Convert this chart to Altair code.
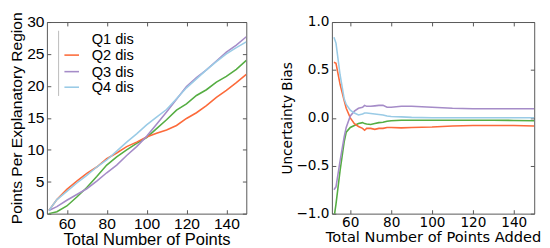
import altair as alt
import pandas as pd

series = ["Q1 dis", "Q2 dis", "Q3 dis", "Q4 dis"]
colors = ["#55ad42", "#fc6a3a", "#a58cc8", "#9acbe6"]

# Left panel: points per explanatory region
left_x = [51, 55, 60, 65, 70, 75, 80, 85, 90, 95, 100, 105, 110, 115, 120, 125, 130, 135, 140, 145, 150]
left_q1 = [0.0, 0.3, 1.2, 2.6, 4.1, 5.8, 7.6, 8.9, 10.0, 11.0, 11.9, 13.3, 14.7, 16.2, 17.2, 18.5, 19.4, 20.6, 21.5, 22.6, 24.0]
left_q2 = [0.5, 2.2, 3.8, 5.1, 6.3, 7.3, 8.6, 9.5, 10.5, 11.2, 12.0, 12.6, 13.1, 13.8, 14.9, 15.8, 16.9, 18.2, 19.3, 20.5, 21.8]
left_q3 = [0.5, 1.1, 2.1, 3.0, 3.9, 5.1, 6.4, 7.6, 9.1, 10.5, 12.1, 14.0, 15.9, 17.9, 19.9, 21.3, 22.5, 23.9, 25.3, 26.4, 27.7]
left_q4 = [0.5, 2.2, 3.5, 4.8, 6.0, 7.3, 8.4, 9.8, 11.2, 12.5, 13.9, 15.1, 16.3, 18.0, 19.7, 21.1, 22.5, 23.8, 25.0, 26.0, 26.9]

# Right panel: uncertainty bias
right_x = [52, 53, 55, 57, 58, 60, 62, 64, 66, 67, 68, 70, 72, 74, 76, 78, 80, 85, 90, 100, 110, 120, 130, 140, 150]
right_q1 = [-1.05, -0.9, -0.55, -0.25, -0.15, -0.1, -0.08, -0.06, -0.05, -0.06, -0.065, -0.07, -0.06, -0.05, -0.045, -0.035, -0.03, -0.025, -0.025, -0.025, -0.025, -0.025, -0.025, -0.027, -0.03]
right_q2 = [0.58, 0.57, 0.35, 0.18, 0.1, 0.0, -0.06, -0.09, -0.11, -0.13, -0.11, -0.11, -0.12, -0.11, -0.11, -0.1, -0.1, -0.105, -0.1, -0.095, -0.085, -0.08, -0.08, -0.08, -0.085]
right_q3 = [-0.75, -0.72, -0.45, -0.2, -0.1, 0.02, 0.07, 0.1, 0.11, 0.13, 0.12, 0.12, 0.125, 0.13, 0.13, 0.11, 0.11, 0.12, 0.12, 0.11, 0.1, 0.095, 0.095, 0.095, 0.095]
right_q4 = [0.84, 0.78, 0.45, 0.2, 0.14, 0.08, 0.05, 0.03, 0.04, 0.05, 0.05, 0.045, 0.04, 0.035, 0.03, 0.02, 0.015, 0.01, 0.005, 0.0, 0.0, 0.0, 0.0, 0.0, 0.0]

x_ticks = [60, 80, 100, 120, 140]
left_y_ticks = [0, 5, 10, 15, 20, 25, 30]
right_y_ticks = [-1.0, -0.5, 0.0, 0.5, 1.0]


def to_long(xs, ys_list):
    rows = []
    for name, ys in zip(series, ys_list):
        for x, y in zip(xs, ys):
            rows.append({"x": x, "y": y, "series": name})
    return pd.DataFrame(rows)


left_df = to_long(left_x, [left_q1, left_q2, left_q3, left_q4])
right_df = to_long(right_x, [right_q1, right_q2, right_q3, right_q4])

FRAME = "#555555"
H = 197

color = alt.Color("series:N", scale=alt.Scale(domain=series, range=colors), legend=None)


def panel(df, xdom, ydom, yvals, yfmt, xtitle, ytitle, font, lsize, xtsize, ytsize):
    common = dict(domain=False, grid=False, tickSize=4, offset=-4, tickColor=FRAME,
                  labelFont=font, labelFontSize=lsize, labelColor="black",
                  titleFont=font, titleFontWeight="normal", titleColor="black")
    lines = alt.Chart(df).mark_line(strokeWidth=1.6, clip=True).encode(
        x=alt.X("x:Q", scale=alt.Scale(domain=xdom, nice=False, zero=False),
                axis=alt.Axis(orient="bottom", values=x_ticks, title=xtitle,
                              labelPadding=2, titlePadding=1, titleFontSize=xtsize, **common)),
        y=alt.Y("y:Q", scale=alt.Scale(domain=ydom, nice=False, zero=False),
                axis=alt.Axis(orient="left", values=yvals, format=yfmt, title=ytitle,
                              labelPadding=3, titlePadding=2, titleFontSize=ytsize, **common)),
        color=color,
        detail="series:N",
    )
    ticks2 = alt.Chart(df).mark_point(opacity=0).encode(
        x=alt.X("x:Q", scale=alt.Scale(domain=xdom, nice=False, zero=False),
                axis=alt.Axis(orient="top", values=x_ticks, labels=False, title=None, **common)),
        y=alt.Y("y:Q", scale=alt.Scale(domain=ydom, nice=False, zero=False),
                axis=alt.Axis(orient="right", values=yvals, labels=False, title=None, **common)),
    )
    return lines, ticks2


l_lines, l_ticks = panel(left_df, [50, 150], [0, 30], left_y_ticks, "d",
                         "Total Number of Points", "Points Per Explanatory Region",
                         "Liberation Sans", 16, 17, 16)
r_lines, r_ticks = panel(right_df, [51, 150], [-1, 1], right_y_ticks, ".1f",
                         "Total Number of Points Added", "Uncertainty Bias",
                         "DejaVu Sans", 14, 15, 14)

# Hand-made legend (Q1 entry shows no line in the original)
legend_layers = []
one = pd.DataFrame({"k": [0]})
legend_layers.append(
    alt.Chart(one).mark_rule(color="#bbbbbb", strokeWidth=1).encode(
        x=alt.value(12), y=alt.value(9), y2=alt.value(76))
)
legend_y = [18, 34, 51, 67]
for i, (name, col) in enumerate(zip(series, colors)):
    if i > 0:
        legend_layers.append(
            alt.Chart(one).mark_rule(color=col, strokeWidth=1.6).encode(
                x=alt.value(18), x2=alt.value(33), y=alt.value(legend_y[i]))
        )
    legend_layers.append(
        alt.Chart(pd.DataFrame({"label": [name]})).mark_text(
            align="left", baseline="middle", font="Liberation Sans", fontSize=15, color="black"
        ).encode(x=alt.value(46), y=alt.value(legend_y[i]), text="label:N")
    )

left = alt.layer(l_lines, l_ticks, *legend_layers).resolve_axis(
    x="independent", y="independent").properties(width=205, height=H)
right = alt.layer(r_lines, r_ticks).resolve_axis(
    x="independent", y="independent").properties(width=208, height=H)

chart = alt.hconcat(left, right, spacing=30).properties(
    padding={"left": 0, "top": 0, "right": 0, "bottom": 0}
).configure_view(stroke=FRAME, strokeWidth=1)

chart.save("out.html", embed_options={"renderer": "svg", "actions": False})
